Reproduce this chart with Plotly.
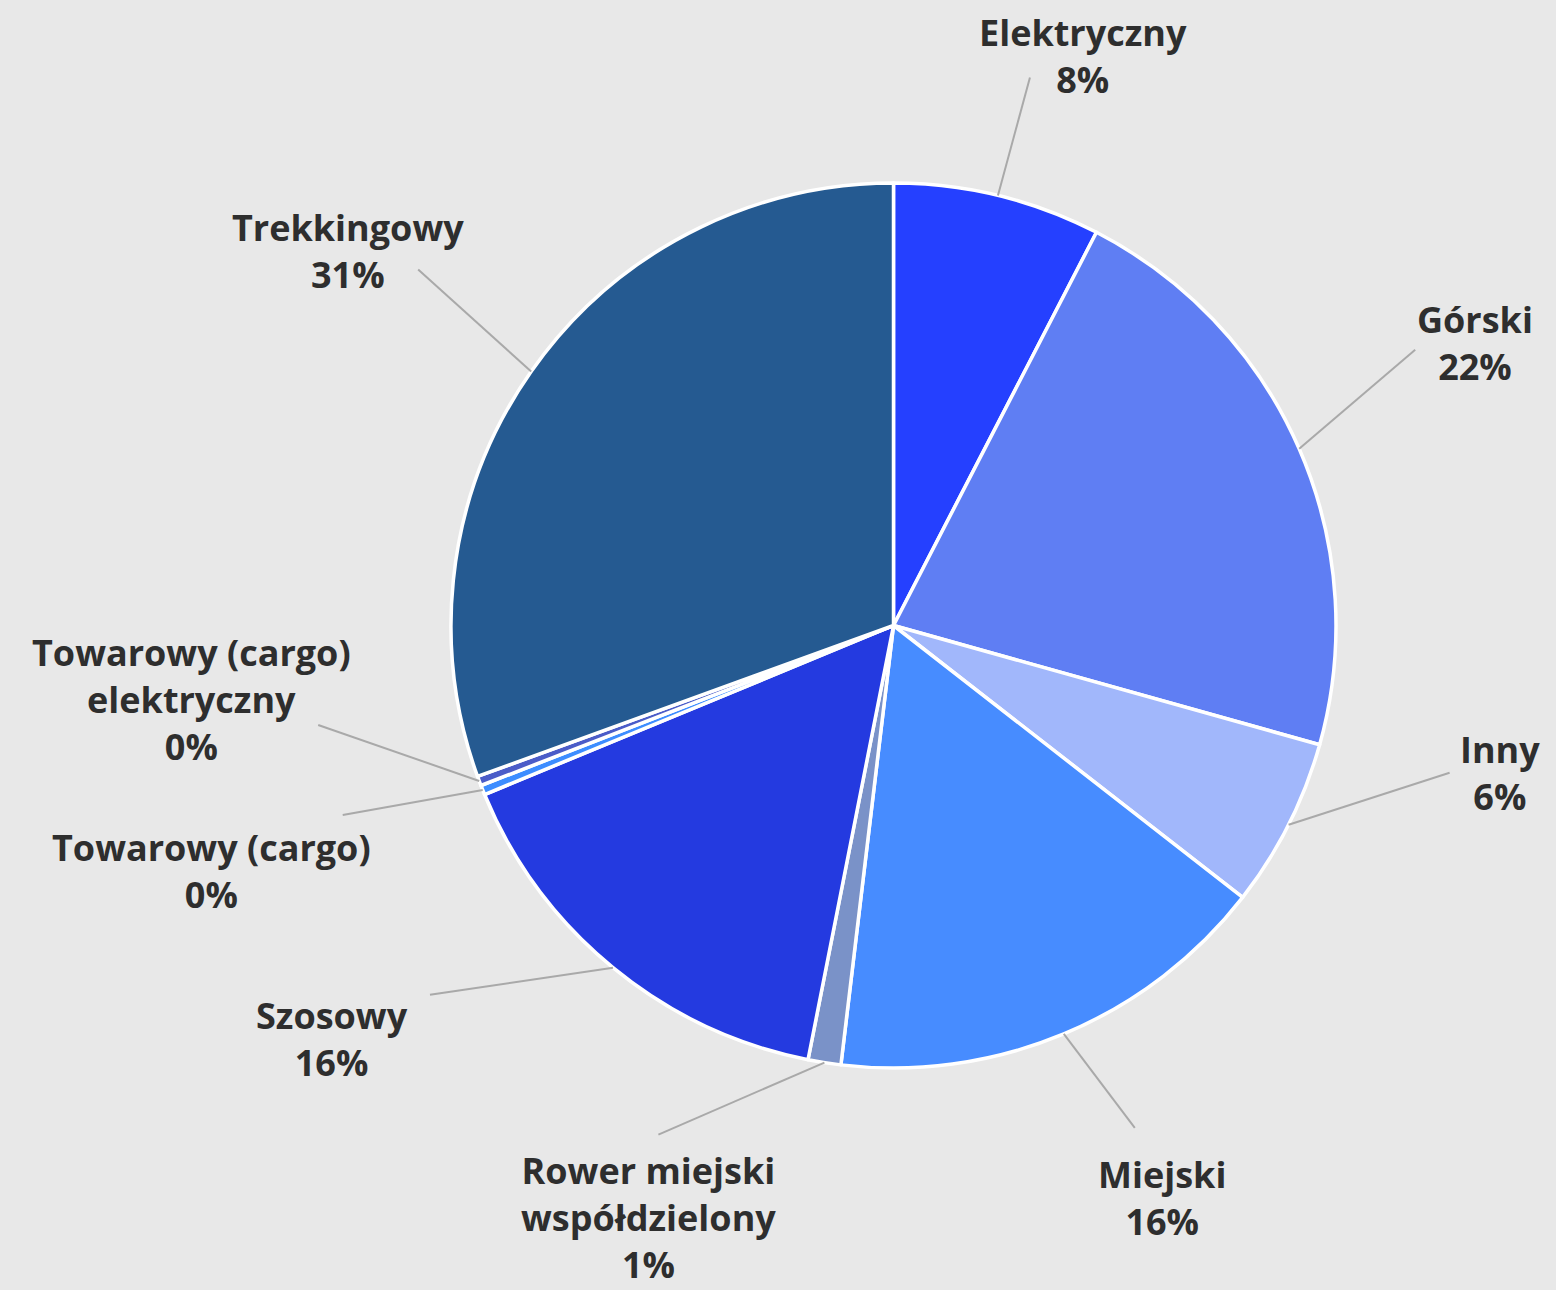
import math
import plotly.graph_objects as go

# ---- data ----
categories = ["Elektryczny", "Górski", "Inny", "Miejski", "Rower miejski<br>współdzielony",
              "Szosowy", "Towarowy (cargo)", "Towarowy (cargo)<br>elektryczny", "Trekkingowy"]
values = [7.6, 21.8, 6.2, 16.4, 1.2, 15.7, 0.35, 0.35, 30.6]
colors = ["#2540ff", "#5f7ef3", "#a1b7fb", "#478cff", "#7a92c8",
          "#243ae0", "#3d8dff", "#4b5cc8", "#255a91"]

# ---- layout / styling (pixels) ----
W, H = 1556, 1290
CX, CY, R = 893.5, 625.5, 442.5          # pie centre and radius in pixels (from top-left)
# offsets from slice edge point: (text centre dx, dy), (leader end dx, dy)
text_off = [(85, -140), (176, -106), (211, -52), (98, 164), (-176, 155),
            (-281, 71), (-271, 81), (-288, -81), (-183, -121)]
line_off = [(32, -118), (116, -99), (161, -52), (71, 94), (-166, 72),
            (-183, 27), (-140, 25), (-161, -56), (-113, -102)]

FONT = "Open Sans"
FS = 36
TXT = "#2e2e2e"
BG = "#e8e8e8"

fig = go.Figure(go.Pie(
    labels=categories, values=values, sort=False, direction="clockwise", rotation=0,
    marker=dict(colors=colors, line=dict(color="white", width=3.5)),
    textinfo="none", hoverinfo="label+percent", showlegend=False,
    domain=dict(x=[(CX - R) / W, (CX + R) / W], y=[(H - CY - R) / H, (H - CY + R) / H]),
))

total = sum(values)
cum = 0.0
for i, (cat, v) in enumerate(zip(categories, values)):
    mid = (cum + v / 2) / total * 2 * math.pi
    cum += v
    ex = CX + R * math.sin(mid)
    ey = CY - R * math.cos(mid)
    tdx, tdy = text_off[i]
    ldx, ldy = line_off[i]
    fig.add_shape(type="line", xref="paper", yref="paper",
                  x0=ex / W, y0=1 - ey / H, x1=(ex + ldx) / W, y1=1 - (ey + ldy) / H,
                  line=dict(color="#a9a9a9", width=2))
    pct = round(v / total * 100)
    fig.add_annotation(xref="paper", yref="paper", x=(ex + tdx) / W, y=1 - (ey + tdy) / H,
                       text=f"<b>{cat}<br>{pct}%</b>", showarrow=False,
                       xanchor="center", yanchor="middle", align="center",
                       font=dict(family=FONT, size=FS, color=TXT))

fig.update_layout(width=W, height=H, margin=dict(l=0, r=0, t=0, b=0),
                  paper_bgcolor=BG, plot_bgcolor=BG)
fig.write_html("out.html", config={"displayModeBar": False},
               post_script="document.body.style.margin='0';document.body.style.background='%s';" % BG)
